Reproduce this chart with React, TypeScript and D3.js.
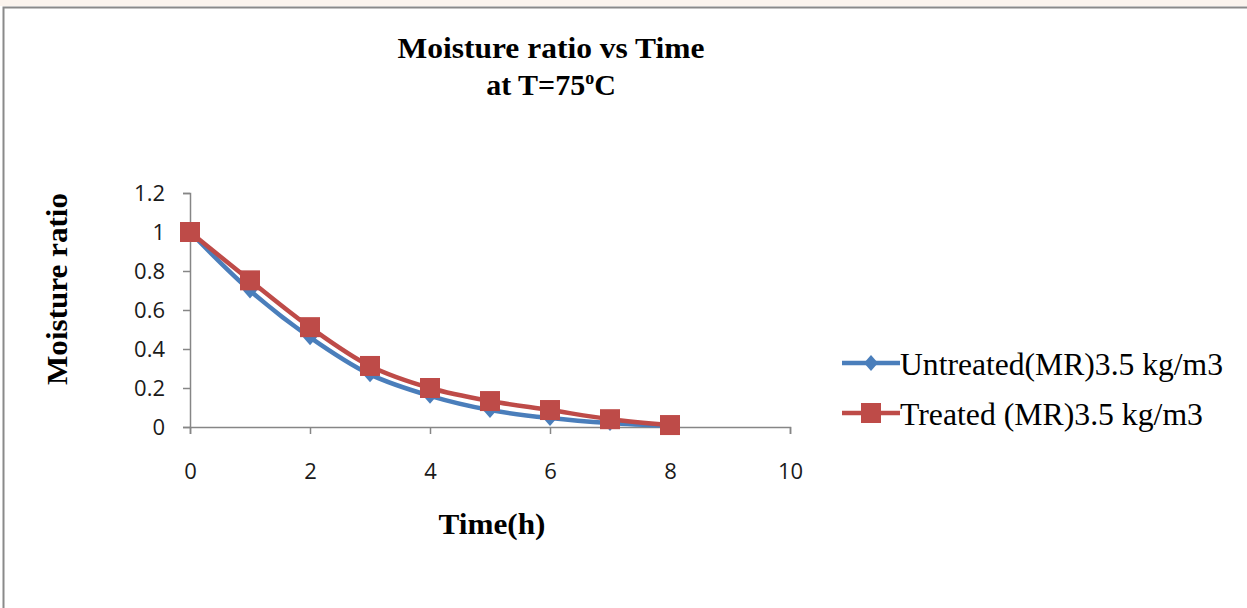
import React, { useEffect, useRef } from "react";
import * as d3 from "d3";

const times = [0, 1, 2, 3, 4, 5, 6, 7, 8];
const untreated = [1, 0.7, 0.46, 0.27, 0.16, 0.087, 0.046, 0.02, 0.005];
const treated = [1, 0.752, 0.512, 0.313, 0.2, 0.133, 0.087, 0.04, 0.01];
const xTicks = [0, 2, 4, 6, 8, 10];
const yTicks = [0, 0.2, 0.4, 0.6, 0.8, 1, 1.2];
const seriesNames = ["Untreated(MR)3.5 kg/m3", "Treated (MR)3.5 kg/m3"];

const W = 1247;
const H = 608;
const BLUE = "#4a7ebb";
const RED = "#be4b48";
const AXIS = "#868686";

export default function App() {
  const ref = useRef<SVGSVGElement>(null);
  useEffect(() => {
    const svg = d3.select(ref.current);
    svg.selectAll("*").remove();

    svg.append("rect").attr("width", W).attr("height", H).attr("fill", "#fff");
    svg.append("rect").attr("width", W).attr("height", 6).attr("fill", "#fbf4ee");
    // chart border
    svg.append("path").attr("d", `M3.5,${H} V7.5 H${W}`).attr("fill", "none").attr("stroke", "#8a8a8a").attr("stroke-width", 2);

    const x = d3.scaleLinear().domain([0, 10]).range([190, 790]);
    const y = d3.scaleLinear().domain([0, 1.2]).range([427, 193]);

    const serif = "'Liberation Serif', 'Times New Roman', serif";
    const sans = "'Open Sans', 'Noto Sans', sans-serif";

    // title
    svg.append("text").attr("x", 551).attr("y", 58).attr("text-anchor", "middle")
      .attr("font-family", serif).attr("font-weight", "bold").attr("font-size", 30).attr("fill", "#000")
      .attr("textLength", 307).attr("lengthAdjust", "spacingAndGlyphs")
      .text("Moisture ratio vs Time");
    const t2 = svg.append("text").attr("x", 551).attr("y", 95).attr("text-anchor", "middle")
      .attr("font-family", serif).attr("font-weight", "bold").attr("font-size", 30).attr("fill", "#000");
    t2.append("tspan").text("at T=75");
    t2.append("tspan").attr("font-size", 18).attr("dy", -11).text("o");
    t2.append("tspan").attr("dy", 11).text("C");

    // y axis
    const yAxis = svg.append("g").attr("transform", `translate(190,0)`)
      .call(d3.axisLeft(y).tickValues(yTicks).tickSize(7).tickSizeOuter(7).tickPadding(18).tickFormat((d) => String(+d)));
    yAxis.attr("font-size", 22).attr("font-family", sans);
    yAxis.select(".domain").attr("stroke", AXIS).attr("stroke-width", 1.5);
    yAxis.selectAll(".tick line").attr("stroke", AXIS).attr("stroke-width", 1.5);
    yAxis.selectAll(".tick text").style("font-size", "22px").style("font-family", sans).attr("fill", "#1a1a1a");

    // x axis
    const xAxis = svg.append("g").attr("transform", `translate(0,427)`)
      .call(d3.axisBottom(x).tickValues(xTicks).tickSize(7).tickSizeOuter(7).tickPadding(29).tickFormat((d) => String(+d)));
    xAxis.attr("font-size", 22).attr("font-family", sans);
    xAxis.select(".domain").attr("stroke", AXIS).attr("stroke-width", 1.5);
    xAxis.selectAll(".tick line").attr("stroke", AXIS).attr("stroke-width", 1.5);
    xAxis.selectAll(".tick text").style("font-size", "22px").style("font-family", sans).attr("fill", "#1a1a1a");

    // axis titles
    svg.append("text").attr("x", 492).attr("y", 534).attr("text-anchor", "middle")
      .attr("font-family", serif).attr("font-weight", "bold").attr("font-size", 30)
      .attr("textLength", 107).attr("lengthAdjust", "spacingAndGlyphs").text("Time(h)");
    svg.append("text").attr("transform", `translate(67,289) rotate(-90)`).attr("text-anchor", "middle")
      .attr("font-family", serif).attr("font-weight", "bold").attr("font-size", 30)
      .attr("textLength", 192).attr("lengthAdjust", "spacingAndGlyphs").text("Moisture ratio");

    const line = d3.line<number>().x((_, i) => x(times[i])).y((d) => y(d)).curve(d3.curveCatmullRom.alpha(0.5));
    const diamond = "M0,-8L7,0L0,8L-7,0Z";

    // untreated
    svg.append("path").attr("d", line(untreated)).attr("fill", "none").attr("stroke", BLUE).attr("stroke-width", 4.5);
    svg.append("g").selectAll("path").data(untreated).join("path")
      .attr("d", diamond)
      .attr("transform", (d, i) => `translate(${x(times[i])},${y(d)})`)
      .attr("fill", BLUE);

    // treated
    svg.append("path").attr("d", line(treated)).attr("fill", "none").attr("stroke", RED).attr("stroke-width", 4.5);
    svg.append("g").selectAll("rect").data(treated).join("rect")
      .attr("x", (d, i) => x(times[i]) - 10).attr("y", (d) => y(d) - 10)
      .attr("width", 20).attr("height", 20).attr("fill", RED);

    // legend
    const leg = [
      { name: seriesNames[0], color: BLUE, y: 363, kind: "diamond", len: 323 },
      { name: seriesNames[1], color: RED, y: 413, kind: "square", len: 303 },
    ];
    leg.forEach((l) => {
      svg.append("line").attr("x1", 842).attr("x2", 900).attr("y1", l.y).attr("y2", l.y)
        .attr("stroke", l.color).attr("stroke-width", 4.5);
      if (l.kind === "diamond") {
        svg.append("path").attr("d", diamond)
          .attr("transform", `translate(871,${l.y})`).attr("fill", l.color);
      } else {
        svg.append("rect").attr("x", 861).attr("y", l.y - 10).attr("width", 20).attr("height", 20).attr("fill", l.color);
      }
      svg.append("text").attr("x", 900).attr("y", l.y + 12).attr("font-family", serif)
        .attr("font-size", 31).attr("fill", "#000")
        .attr("textLength", l.len).attr("lengthAdjust", "spacingAndGlyphs").text(l.name);
    });
  }, []);

  return (
    <svg ref={ref} width={W} height={H} style={{ position: "fixed", left: 0, top: 0 }} />
  );
}
